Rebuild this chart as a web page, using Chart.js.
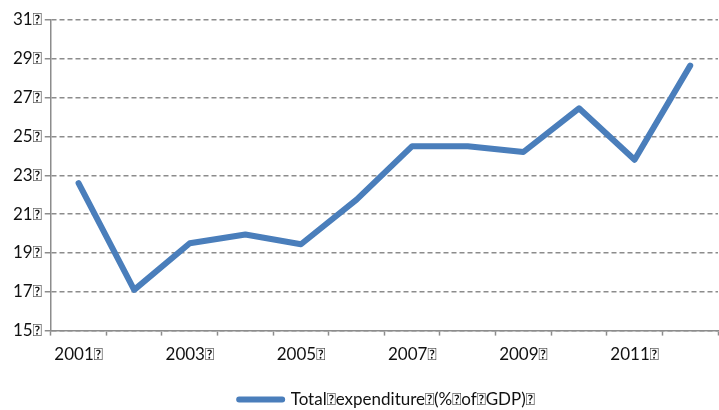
<!DOCTYPE html>
<html>
<head>
<meta charset="utf-8">
<script src="https://cdn.jsdelivr.net/npm/chart.js@4"></script>
<style>
  html, body { margin: 0; padding: 0; background: #fff; }
  #wrap { width: 719px; height: 410px; }
</style>
</head>
<body>
<div id="wrap"><canvas id="chart"></canvas></div>
<script>
const BOX = '\uE000';
const years = ['2001', '2002', '2003', '2004', '2005', '2006', '2007', '2008', '2009', '2010', '2011', '2012'];
const expenditure = [22.6, 17.1, 19.5, 19.95, 19.45, 21.75, 24.5, 24.5, 24.2, 26.45, 23.8, 28.65];
const seriesName = 'Total' + BOX + 'expenditure' + BOX + '(%' + BOX + 'of' + BOX + 'GDP)' + BOX;

const lineBlue = '#4a7ebb';
const axisGrey = '#8c8c8c';
const fontFamily = 'Lato, "Open Sans", sans-serif';

// move the legend toward the plot centre and down near the bottom edge
const legendShift = {
    id: 'legendShift',
    afterLayout(chart) {
        const lg = chart.legend;
        lg.left += 23;
        lg.right += 23;
        lg.top += 9;
        lg.bottom += 9;
    }
};

new Chart(document.getElementById('chart'), {
    type: 'line',
    data: {
        labels: years.map(y => y + BOX),
        datasets: [{
            label: seriesName,
            data: expenditure,
            borderColor: lineBlue,
            backgroundColor: lineBlue,
            borderWidth: 6,
            borderJoinStyle: 'round',
            borderCapStyle: 'round',
            pointRadius: 0,
            tension: 0
        }]
    },
    options: {
        responsive: true,
        maintainAspectRatio: false,
        animation: false,
        layout: { padding: { top: 20, right: 1, left: 10, bottom: 1 } },
        plugins: {
            tooltip: { enabled: false },
            legend: {
                position: 'bottom',
                labels: {
                    boxWidth: 43,
                    boxHeight: 0,
                    color: '#111',
                    padding: 8,
                    font: { family: fontFamily, size: 17 }
                }
            }
        },
        scales: {
            x: {
                offset: true,
                grid: {
                    display: true,
                    offset: true,
                    drawOnChartArea: false,
                    tickLength: 5,
                    tickColor: axisGrey,
                    tickWidth: 1.5
                },
                border: { color: axisGrey, width: 1.5 },
                ticks: {
                    autoSkip: false,
                    maxRotation: 0,
                    color: '#111',
                    padding: 9,
                    font: { family: fontFamily, size: 17 },
                    callback: (v, i) => (i % 2 === 0 ? years[i] + BOX : '')
                }
            },
            y: {
                min: 15,
                max: 31,
                grid: {
                    color: axisGrey,
                    lineWidth: 1.5,
                    tickLength: 6,
                    tickColor: axisGrey,
                    tickBorderDash: []
                },
                border: { color: axisGrey, width: 1.5, dash: [5, 3] },
                ticks: {
                    stepSize: 2,
                    color: '#111',
                    padding: 3,
                    font: { family: fontFamily, size: 17 },
                    callback: v => v + BOX
                }
            }
        }
    },
    plugins: [legendShift]
});
</script>
</body>
</html>
